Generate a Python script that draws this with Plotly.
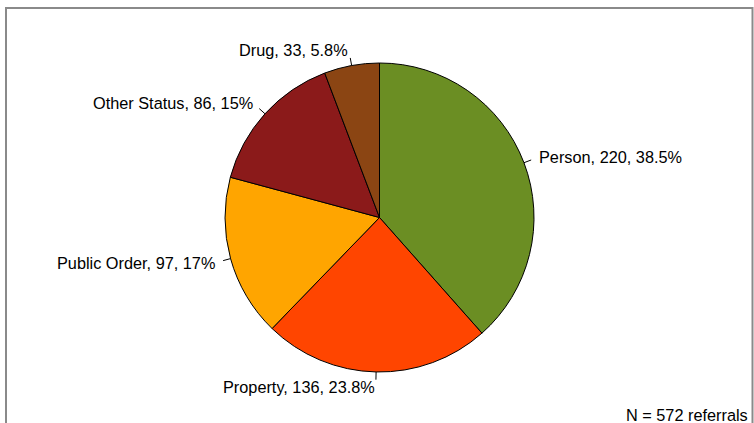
import math
import plotly.graph_objects as go

categories = ["Person", "Property", "Public Order", "Other Status", "Drug"]
counts = [220, 136, 97, 86, 33]
colors = ["#6B8E23", "#FF4500", "#FFA500", "#8B1A1A", "#8B4513"]
note = "N = 572 referrals"

W, H = 754, 423
cx, cy, r = 379.5, 217.5, 154.5
FONT = "Liberation Sans, Arial, sans-serif"
FS = 16.3

total = sum(counts)

def fmt_pct(v):
    p = round(100 * v / total, 1)
    s = f"{p:.1f}"
    if s.endswith(".0"):
        s = s[:-2]
    return s + "%"

labels_txt = [f"{c}, {v}, {fmt_pct(v)}" for c, v in zip(categories, counts)]

fig = go.Figure()
fig.add_trace(go.Pie(
    labels=categories, values=counts, sort=False, direction="clockwise",
    rotation=0, marker=dict(colors=colors, line=dict(color="black", width=1)),
    textinfo="none", hoverinfo="label+value+percent", showlegend=False,
    domain=dict(x=[(cx - r) / W, (cx + r) / W], y=[(H - cy - r) / H, (H - cy + r) / H]),
))

def to_paper(px, py):
    return px / W, (H - py) / H

annotations = []
shapes = []
cum = 0
for txt, v in zip(labels_txt, counts):
    mid = (cum + v / 2) / total * 2 * math.pi
    cum += v
    sx, sy = math.sin(mid), math.cos(mid)
    x0, y0 = to_paper(cx + r * sx, cy - r * sy)
    x1, y1 = to_paper(cx + 1.05 * r * sx, cy - 1.05 * r * sy)
    shapes.append(dict(type="line", xref="paper", yref="paper", x0=x0, y0=y0, x1=x1, y1=y1,
                       line=dict(color="black", width=1)))
    lx, ly = to_paper(cx + 1.1 * r * sx, cy - 1.1 * r * sy)
    annotations.append(dict(x=lx, y=ly, xref="paper", yref="paper", text=txt, showarrow=False,
                            xanchor="left" if sx > 0 else "right", yanchor="middle",
                            borderpad=0,
                            font=dict(family=FONT, size=FS, color="black")))

annotations.append(dict(x=749 / W, y=(H - 415) / H, xref="paper", yref="paper", text=note,
                        showarrow=False, xanchor="right", yanchor="middle", borderpad=0,
                        font=dict(family=FONT, size=FS, color="black")))

shapes.append(dict(type="rect", xref="paper", yref="paper", x0=6 / W, x1=752.5 / W,
                   y0=-0.1, y1=(H - 8) / H, line=dict(color="#8a8a8a", width=2),
                   fillcolor="rgba(0,0,0,0)", layer="below"))

fig.update_layout(width=W, height=H, margin=dict(l=0, r=0, t=0, b=0),
                  paper_bgcolor="white", plot_bgcolor="white",
                  annotations=annotations, shapes=shapes)

fig.write_html("out.html", config={"displayModeBar": False},
               post_script="document.body.style.margin='0';document.body.style.overflow='hidden';")
